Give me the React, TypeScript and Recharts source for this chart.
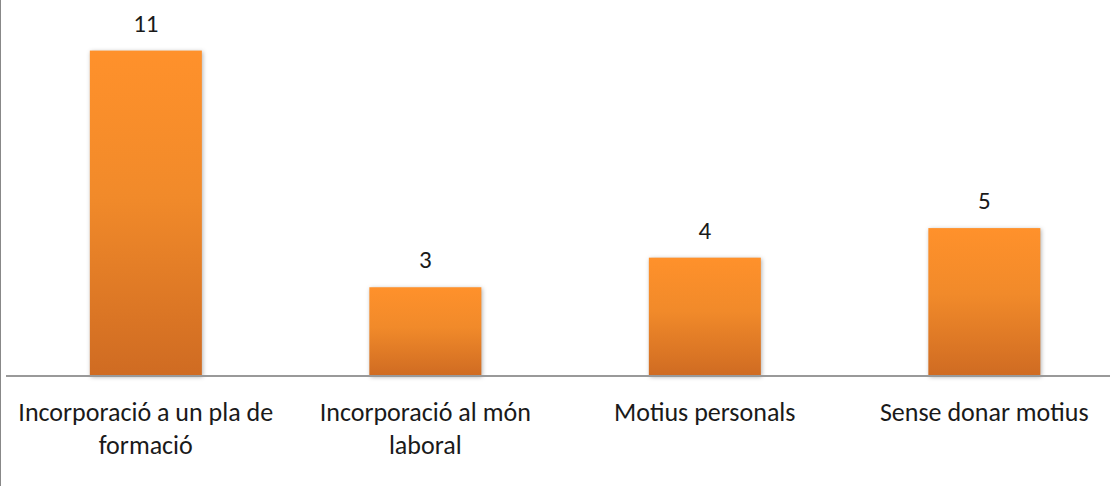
import React from "react";
import { BarChart, Bar, XAxis, YAxis, LabelList } from "recharts";

const CATEGORIES = [
  "Incorporació a un pla de\nformació",
  "Incorporació al món\nlaboral",
  "Motius personals",
  "Sense donar motius",
];
const VALUES = [11, 3, 4, 5];

const data = CATEGORIES.map((name, i) => ({ name, value: VALUES[i] }));

const FONT = "Carlito, Lato, 'Open Sans', sans-serif";

function WrappedTick({ x, y, payload }: any) {
  const lines = String(payload.value).split("\n");
  return (
    <text x={x} y={y} textAnchor="middle" fill="#1a1a1a" fontSize={26} fontFamily={FONT}>
      {lines.map((l, i) => (
        <tspan key={i} x={x} dy={i === 0 ? 43 : 33}>
          {l}
        </tspan>
      ))}
    </text>
  );
}

function ShadowBar({ x, y, width, height }: any) {
  return (
    <rect
      x={x}
      y={y}
      width={width}
      height={height}
      fill="url(#barFill)"
      style={{ filter: "drop-shadow(1px 1px 2px rgba(0,0,0,0.3))" }}
    />
  );
}

export default function App() {
  return (
    <div
      style={{
        position: "absolute",
        left: 0,
        top: 0,
        width: 1110,
        height: 486,
        overflow: "hidden",
        background: "#fff",
        borderLeft: "1px solid #888",
        boxSizing: "border-box",
      }}
    >
      <BarChart
        width={1130}
        height={486}
        data={data}
        margin={{ top: 21, right: 7, bottom: 0, left: 5 }}
        barCategoryGap="30%"
      >
        <defs>
          <linearGradient id="barFill" x1="0" y1="0" x2="0" y2="1">
            <stop offset="0%" stopColor="#ff912b" />
            <stop offset="45%" stopColor="#f18a2a" />
            <stop offset="100%" stopColor="#cf6b22" />
          </linearGradient>
        </defs>
        <XAxis
          dataKey="name"
          height={110}
          interval={0}
          tickLine={false}
          tickSize={0}
          axisLine={{ stroke: "#999", strokeWidth: 2 }}
          tick={<WrappedTick />}
        />
        <YAxis hide domain={[0, 12]} />
        <Bar dataKey="value" shape={<ShadowBar />} isAnimationActive={false}>
          <LabelList
            dataKey="value"
            position="top"
            offset={19}
            fill="#1a1a1a"
            fontSize={25}
            fontFamily={FONT}
          />
        </Bar>
      </BarChart>
    </div>
  );
}
